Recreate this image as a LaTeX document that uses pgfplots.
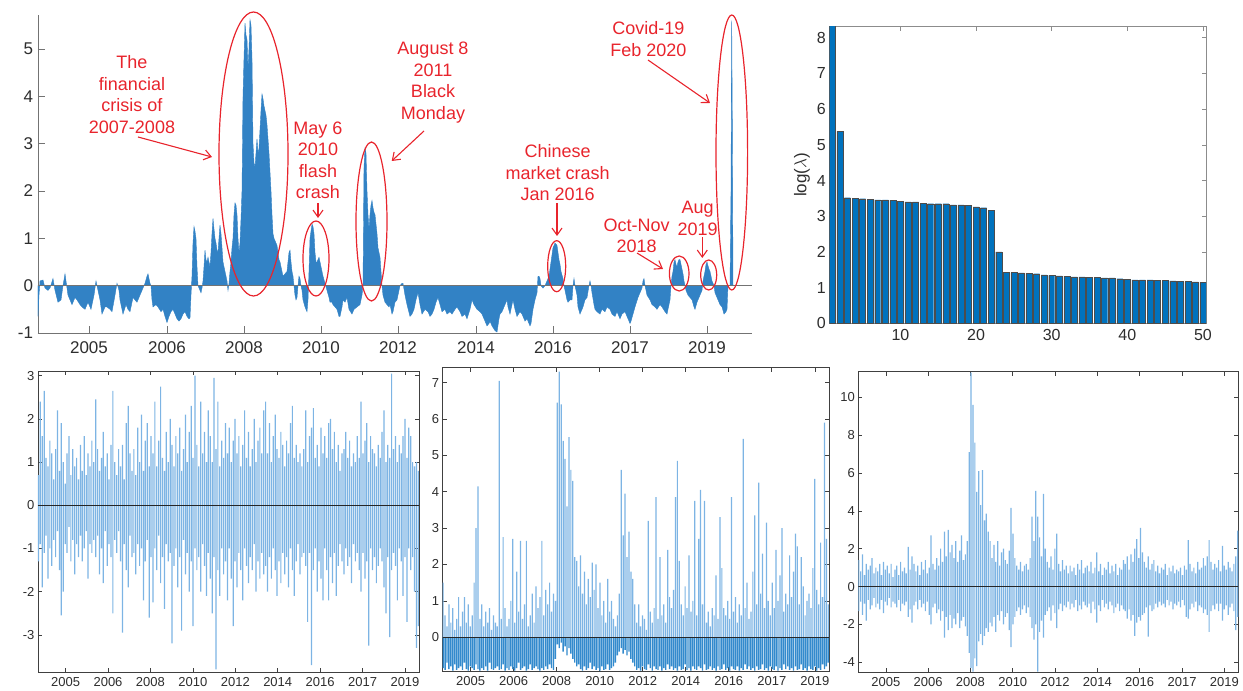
\documentclass[border=0pt]{standalone}
\usepackage{pgfplots}
\pgfplotsset{compat=1.18}
\usepackage{pgfplotstable}
\usepackage{fontspec}
\setmainfont{Liberation Sans}
\usetikzlibrary{arrows.meta}
\definecolor{areablue}{RGB}{50,130,197}
\definecolor{mblue}{RGB}{0,114,189}
\definecolor{spklight}{RGB}{125,180,228}
\definecolor{spkdark}{RGB}{50,138,205}
\definecolor{annored}{RGB}{232,36,44}
\definecolor{axgray}{RGB}{115,115,115}
\definecolor{lblgray}{RGB}{45,45,45}

% ---------- top-left: x in image pixels, y in data units ----------
\pgfplotstableread{
x y
38 -0.65
39 -0.2
40 0.1
43 0.12
45 -0.05
48 -0.1
50 -0.05
53 0.15
55 -0.1
58 -0.35
61 -0.3
63 0.0
65 0.25
67 -0.05
68 -0.2
72 -0.4
75 -0.25
77 -0.3
80 -0.4
82 -0.45
85 -0.5
88 -0.35
91 -0.5
94 -0.2
96 0.1
98 -0.1
100 -0.3
102 -0.6
105 -0.45
107 -0.45
110 -0.5
112 -0.55
115 -0.2
117 0.05
119 -0.1
120 -0.3
123 -0.6
126 -0.4
128 -0.5
130 -0.55
133 -0.25
135 -0.3
137 -0.35
140 -0.2
142 -0.1
145 0.05
147 0.2
148 0.25
150 0.05
151 0.0
152 -0.3
153 -0.45
156 -0.4
158 -0.45
161 -0.55
163 -0.5
165 -0.65
167 -0.78
169 -0.65
171 -0.55
173 -0.5
175 -0.6
177 -0.7
179 -0.75
181 -0.7
183 -0.6
185 -0.55
187 -0.65
189 -0.7
190 -0.68
191 -0.2
192 0.2
193 0.9
194 1.25
195 1.15
196 1.0
197 0.4
198 0.0
200 -0.1
201 -0.15
202 -0.05
203 0.1
204 0.4
205 0.75
206 0.55
207 0.5
208 0.6
209 0.5
210 0.4
211 0.7
212 1.1
213 1.42
214 1.2
215 1.0
216 0.9
217 0.75
218 0.7
219 1.0
220 1.28
221 1.1
222 0.8
223 0.5
225 0.3
227 0.1
228 -0.1
229 0.05
230 0.3
231 0.5
232 0.8
233 1.0
234 1.5
235 1.75
236 1.7
237 1.5
238 1.0
239 0.7
240 0.9
241 1.4
242 2.0
243 4.0
244 4.8
245 5.55
246 5.3
247 5.2
248 4.6
249 5.0
250 5.62
251 5.5
252 4.8
253 3.0
254 2.6
255 2.5
256 2.8
257 3.1
258 2.8
259 2.9
260 3.3
261 3.7
262 4.05
263 3.95
264 3.8
265 3.7
266 3.6
267 3.4
268 3.1
269 2.8
270 2.4
271 2.0
272 1.5
273 1.1
274 1.0
275 0.95
276 0.9
277 0.85
278 0.7
279 0.55
280 0.5
281 0.4
282 0.3
283 0.2
285 0.25
287 0.3
288 0.5
289 0.7
290 0.75
291 0.5
292 0.3
293 0.2
294 0.0
295 -0.2
296 -0.3
297 -0.25
298 0.0
299 0.2
300 0.15
301 0.0
302 -0.1
303 -0.3
305 -0.45
307 -0.55
308 -0.3
309 0.3
310 1.0
311 1.15
312 1.3
313 1.25
314 1.1
315 0.7
316 0.5
317 0.5
318 0.55
319 0.6
320 0.5
321 0.4
322 0.3
323 0.2
325 0.05
327 -0.1
329 -0.25
330 -0.35
332 -0.35
333 -0.4
335 -0.45
337 -0.5
339 -0.65
340 -0.65
342 -0.45
343 -0.3
345 -0.35
347 -0.25
349 -0.5
352 -0.6
354 -0.5
357 -0.45
360 -0.4
362 -0.2
363 0.0
364 2.5
365 2.9
366 2.8
367 2.0
368 1.5
369 1.2
370 1.5
371 1.7
372 1.8
373 1.65
374 1.55
375 1.5
376 1.3
377 1.1
378 0.8
379 0.7
380 0.6
381 0.3
382 0.0
383 -0.2
385 -0.35
387 -0.4
389 -0.45
390 -0.4
392 -0.6
393 -0.55
395 -0.35
397 -0.3
400 0.0
402 0.05
403 0.05
405 -0.2
407 -0.4
410 -0.65
412 -0.6
414 -0.5
416 -0.3
418 -0.15
420 -0.4
422 -0.6
425 -0.5
428 -0.55
430 -0.65
432 -0.6
434 -0.5
436 -0.35
438 -0.25
440 -0.4
442 -0.55
445 -0.5
447 -0.6
450 -0.55
452 -0.6
455 -0.5
457 -0.45
460 -0.55
462 -0.65
465 -0.6
467 -0.7
470 -0.5
472 -0.3
474 -0.4
477 -0.5
480 -0.55
482 -0.6
485 -0.75
487 -0.85
489 -0.8
490 -0.75
492 -0.85
495 -0.95
497 -0.98
499 -0.7
500 -0.6
502 -0.55
505 -0.4
507 -0.3
508 -0.45
510 -0.6
512 -0.4
513 -0.3
515 -0.5
517 -0.65
520 -0.55
522 -0.6
525 -0.75
527 -0.7
530 -0.85
531 -0.8
533 -0.5
535 -0.3
537 -0.15
538 0.2
539 0.2
540 0.15
541 0.0
543 -0.05
545 0.0
547 0.1
549 0.2
550 0.35
551 0.5
552 0.65
553 0.8
554 0.85
555 0.9
556 0.88
557 0.85
558 0.7
559 0.55
560 0.45
561 0.3
563 0.15
564 0.0
565 -0.1
567 -0.3
568 -0.35
570 -0.3
572 -0.3
573 0.0
574 0.15
575 0.0
577 -0.2
578 -0.45
580 -0.6
582 -0.5
583 -0.45
585 -0.3
587 -0.25
589 0.0
590 0.1
591 0.0
592 -0.15
594 -0.4
595 -0.5
597 -0.55
600 -0.6
602 -0.5
605 -0.55
607 -0.45
610 -0.5
612 -0.6
615 -0.65
617 -0.55
620 -0.7
622 -0.6
625 -0.55
627 -0.65
630 -0.8
631 -0.75
633 -0.6
635 -0.45
638 -0.25
640 -0.15
642 -0.05
643 0.1
644 0.15
645 0.0
647 -0.2
650 -0.3
652 -0.4
655 -0.45
657 -0.5
660 -0.4
662 -0.45
665 -0.55
667 -0.6
669 -0.4
670 -0.3
671 0.0
672 0.2
673 0.3
674 0.5
675 0.55
676 0.45
677 0.4
678 0.5
679 0.55
680 0.55
681 0.45
682 0.35
683 0.25
684 0.1
685 0.0
686 -0.1
688 -0.2
690 -0.25
692 -0.3
694 -0.45
695 -0.5
697 -0.35
698 -0.3
700 -0.2
702 -0.1
703 0.1
704 0.2
705 0.3
706 0.45
707 0.5
708 0.42
709 0.35
710 0.3
711 0.2
712 0.1
713 0.05
714 0.0
715 -0.15
717 -0.25
718 -0.3
720 -0.4
722 -0.45
724 -0.6
726 -0.55
727 -0.5
728 0.0
730 0.0
731 2.0
731.7 5.6
732.3 3.5
733 0.0
}\toptable

% ---------- eigenvalues ----------
\pgfplotstableread{
k v
1 9
2 5.38
3 3.52
4 3.51
5 3.49
6 3.48
7 3.46
8 3.46
9 3.45
10 3.41
11 3.40
12 3.40
13 3.37
14 3.35
15 3.35
16 3.35
17 3.32
18 3.32
19 3.30
20 3.26
21 3.24
22 3.16
23 2.00
24 1.42
25 1.42
26 1.41
27 1.40
28 1.39
29 1.36
30 1.34
31 1.33
32 1.32
33 1.30
34 1.30
35 1.29
36 1.28
37 1.27
38 1.27
39 1.25
40 1.24
41 1.22
42 1.22
43 1.22
44 1.20
45 1.20
46 1.19
47 1.18
48 1.17
49 1.16
50 1.15
}\bartable

% ---------- bottom panel 1 ----------
\pgfplotstableread[row sep=\\]{p n\\
0.7 -1.3\\ 2.4 -0.9\\ 1.6 -1.9\\ 2.65 -1.1\\ 1.1 -0.7\\ 0.9 -1.7\\ 1.5 -1.0\\ 1.2 -1.4\\ 0.6 -0.8\\ 1.3 -1.2\\
2.2 -0.6\\ 0.8 -1.5\\ 1.9 -2.55\\ 1.0 -2.0\\ 0.5 -0.9\\ 1.2 -1.1\\ 1.6 -0.5\\ 0.7 -1.3\\ 1.3 -0.8\\ 0.9 -1.6\\
1.1 -0.9\\ 0.6 -1.2\\ 1.4 -0.7\\ 0.8 -1.3\\ 1.6 -1.0\\ 0.7 -0.6\\ 1.2 -1.7\\ 0.9 -0.9\\ 1.5 -1.1\\ 1.0 -0.8\\
2.45 -1.2\\ 1.3 -0.7\\ 0.8 -1.6\\ 1.1 -1.0\\ 1.7 -1.8\\ 0.9 -0.6\\ 1.2 -1.4\\ 0.6 -0.9\\ 1.4 -1.2\\ 2.65 -2.5\\
1.0 -0.8\\ 0.7 -1.1\\ 1.3 -0.6\\ 0.9 -1.3\\ 1.4 -2.95\\ 0.6 -0.9\\ 1.9 -1.5\\ 2.3 -1.9\\ 1.2 -0.7\\ 0.8 -1.2\\
1.3 -1.1\\ 0.7 -1.6\\ 1.8 -0.9\\ 1.0 -1.4\\ 2.1 -1.0\\ 0.8 -2.2\\ 1.5 -1.3\\ 1.9 -0.8\\ 0.9 -2.6\\ 1.6 -1.2\\
1.2 -2.25\\ 2.4 -1.0\\ 0.9 -1.5\\ 1.5 -0.7\\ 2.75 -1.8\\ 1.1 -1.2\\ 0.8 -2.4\\ 1.7 -0.9\\ 1.0 -1.3\\ 2.0 -1.1\\
1.4 -3.2\\ 0.9 -1.4\\ 1.6 -1.0\\ 1.2 -1.9\\ 1.8 -1.2\\ 0.8 -2.9\\ 1.3 -0.8\\ 2.1 -1.6\\ 1.0 -1.1\\ 1.7 -2.0\\
2.3 -1.3\\ 1.1 -2.8\\ 3.0 -1.0\\ 1.4 -1.5\\ 0.9 -1.2\\ 2.4 -2.0\\ 1.2 -0.9\\ 1.7 -1.4\\ 1.0 -2.1\\ 2.2 -1.1\\
1.6 -1.7\\ 1.0 -2.5\\ 2.95 -1.2\\ 1.3 -3.8\\ 2.4 -1.5\\ 0.9 -2.1\\ 1.5 -1.0\\ 1.1 -1.6\\ 1.9 -1.3\\ 1.2 -2.2\\
1.8 -1.0\\ 1.0 -1.7\\ 1.5 -2.8\\ 2.0 -1.3\\ 1.2 -1.9\\ 1.6 -1.1\\ 0.9 -1.5\\ 1.4 -2.2\\ 2.2 -1.0\\ 1.1 -1.4\\
1.7 -1.8\\ 0.9 -1.2\\ 1.3 -1.5\\ 2.0 -0.9\\ 1.0 -2.0\\ 1.5 -1.3\\ 1.8 -1.7\\ 1.2 -1.1\\ 2.2 -1.6\\ 2.4 -1.4\\
1.2 -2.0\\ 1.9 -1.2\\ 1.0 -1.7\\ 1.6 -1.0\\ 2.1 -1.5\\ 1.3 -2.1\\ 1.1 -1.3\\ 1.7 -1.8\\ 1.4 -1.1\\ 0.9 -1.6\\
1.5 -1.2\\ 1.2 -1.9\\ 1.9 -1.0\\ 2.3 -1.5\\ 1.1 -2.1\\ 1.4 -1.3\\ 1.0 -0.9\\ 1.2 -1.6\\ 0.9 -1.2\\ 1.3 -1.1\\
2.2 -1.4\\ 1.0 -2.7\\ 1.6 -1.1\\ 1.8 -3.7\\ 2.25 -1.5\\ 1.1 -1.0\\ 1.4 -2.0\\ 0.9 -1.3\\ 1.8 -1.7\\ 1.2 -2.2\\
1.6 -1.0\\ 1.1 -1.5\\ 1.9 -2.2\\ 2.0 -1.2\\ 1.3 -1.8\\ 1.7 -1.1\\ 1.0 -2.1\\ 1.4 -1.4\\ 0.8 -0.9\\ 1.2 -1.3\\
1.3 -1.6\\ 1.7 -1.0\\ 1.1 -1.4\\ 1.5 -1.2\\ 0.9 -1.8\\ 1.2 -0.9\\ 1.0 -1.3\\ 1.6 -1.1\\ 1.1 -1.5\\ 2.4 -2.0\\
1.2 -1.1\\ 1.5 -1.7\\ 1.9 -1.3\\ 1.0 -3.25\\ 1.6 -1.0\\ 1.3 -1.5\\ 1.2 -1.2\\ 0.9 -1.8\\ 1.4 -1.4\\ 1.1 -1.0\\
1.7 -1.3\\ 2.2 -1.9\\ 1.0 -2.5\\ 1.4 -1.2\\ 1.1 -3.05\\ 3.05 -1.5\\ 1.3 -1.1\\ 1.6 -1.4\\ 1.0 -2.2\\ 1.4 -1.0\\
1.2 -1.3\\ 1.6 -2.1\\ 2.0 -1.2\\ 1.1 -2.7\\ 1.8 -1.0\\ 1.6 -1.5\\ 1.0 -1.2\\ 0.9 -2.0\\ 1.0 -3.3\\ 0.8 -2.8\\
}\tabA

% ---------- bottom panel 2 ----------
\pgfplotstableread[row sep=\\]{p n\\
1.5 -0.85\\ 0.6 -0.9\\ 0.3 -0.7\\ 0.9 -0.88\\ 0.4 -0.8\\ 0.8 -0.92\\ 0.2 -0.75\\ 0.5 -0.9\\ 1.1 -0.85\\ 0.3 -0.8\\
0.7 -0.9\\ 1.1 -0.7\\ 0.4 -0.88\\ 0.9 -0.92\\ 0.3 -0.8\\ 0.6 -0.85\\ 1.5 -0.9\\ 3.0 -0.75\\ 4.15 -0.88\\ 0.5 -0.92\\
0.9 -0.85\\ 0.3 -0.9\\ 0.7 -0.8\\ 0.4 -0.92\\ 0.8 -0.7\\ 0.2 -0.88\\ 0.6 -0.9\\ 0.4 -0.85\\ 0.3 -0.8\\ 7.05 -0.9\\
0.5 -0.88\\ 2.75 -0.75\\ 0.8 -0.92\\ 0.3 -0.85\\ 0.5 -0.9\\ 1.0 -0.8\\ 2.7 -0.88\\ 0.4 -0.92\\ 1.8 -0.85\\ 0.7 -0.7\\
2.65 -0.9\\ 0.5 -0.85\\ 0.9 -0.8\\ 2.65 -0.92\\ 0.3 -0.88\\ 0.6 -0.75\\ 1.2 -0.9\\ 0.4 -0.85\\ 1.4 -0.8\\ 0.8 -0.88\\
1.1 -0.92\\ 2.65 -0.85\\ 0.6 -0.9\\ 1.3 -0.8\\ 0.9 -0.88\\ 1.5 -0.75\\ 0.7 -0.85\\ 1.2 -0.9\\ 1.0 -0.6\\ 6.45 -0.2\\
7.3 -0.3\\ 6.4 -0.15\\ 5.4 -0.4\\ 4.9 -0.25\\ 3.6 -0.5\\ 5.5 -0.3\\ 4.6 -0.45\\ 4.3 -0.6\\ 2.2 -0.7\\ 2.1 -0.8\\
1.4 -0.75\\ 2.25 -0.88\\ 1.2 -0.92\\ 1.8 -0.8\\ 0.9 -0.9\\ 1.6 -0.85\\ 1.1 -0.7\\ 2.05 -0.88\\ 1.3 -0.8\\ 2.0 -0.9\\
0.8 -0.85\\ 1.5 -0.92\\ 0.6 -0.8\\ 1.0 -0.9\\ 0.4 -0.88\\ 1.6 -0.75\\ 0.7 -0.9\\ 1.0 -0.85\\ 0.5 -0.8\\ 0.3 -0.7\\
0.6 -0.5\\ 1.2 -0.4\\ 4.6 -0.3\\ 2.8 -0.45\\ 3.95 -0.35\\ 2.2 -0.5\\ 2.9 -0.4\\ 1.8 -0.6\\ 1.6 -0.7\\ 0.9 -0.8\\
0.4 -0.9\\ 0.9 -0.85\\ 0.3 -0.92\\ 0.6 -0.8\\ 0.5 -0.88\\ 0.2 -0.9\\ 3.2 -0.75\\ 0.7 -0.85\\ 0.4 -0.92\\ 0.8 -0.8\\
3.85 -0.88\\ 0.5 -0.9\\ 2.2 -0.8\\ 0.6 -0.92\\ 0.9 -0.85\\ 0.4 -0.9\\ 2.4 -0.75\\ 1.1 -0.88\\ 0.8 -0.8\\ 1.3 -0.9\\
3.85 -0.85\\ 4.85 -0.92\\ 2.1 -0.8\\ 0.9 -0.9\\ 0.6 -0.88\\ 1.4 -0.75\\ 0.8 -0.9\\ 2.25 -0.85\\ 0.7 -0.92\\ 1.0 -0.8\\
3.75 -0.88\\ 0.6 -0.9\\ 2.7 -0.8\\ 4.05 -0.85\\ 0.9 -0.92\\ 3.75 -0.75\\ 0.4 -0.9\\ 0.7 -0.88\\ 0.3 -0.8\\ 0.8 -0.9\\
0.6 -0.85\\ 1.7 -0.92\\ 0.5 -0.8\\ 3.3 -0.9\\ 1.9 -0.88\\ 0.8 -0.75\\ 0.6 -0.9\\ 1.0 -0.85\\ 0.5 -0.92\\ 3.85 -0.8\\
0.7 -0.88\\ 1.1 -0.9\\ 0.4 -0.8\\ 0.9 -0.92\\ 0.6 -0.85\\ 5.45 -0.9\\ 0.8 -0.75\\ 1.5 -0.88\\ 0.5 -0.8\\ 0.7 -0.9\\
1.8 -0.85\\ 3.35 -0.92\\ 0.9 -0.8\\ 4.25 -0.9\\ 1.2 -0.88\\ 2.3 -0.75\\ 0.8 -0.9\\ 3.15 -0.85\\ 1.0 -0.92\\ 0.6 -0.8\\
1.5 -0.88\\ 0.8 -0.9\\ 2.4 -0.8\\ 1.0 -0.92\\ 1.7 -0.85\\ 3.0 -0.9\\ 0.7 -0.75\\ 1.2 -0.88\\ 0.9 -0.8\\ 2.25 -0.9\\
1.1 -0.85\\ 1.8 -0.92\\ 2.85 -0.8\\ 2.5 -0.9\\ 0.9 -0.88\\ 2.2 -0.75\\ 1.4 -0.9\\ 0.6 -0.85\\ 1.0 -0.92\\ 1.2 -0.8\\
0.8 -0.88\\ 1.9 -0.9\\ 4.35 -0.8\\ 1.3 -0.92\\ 0.9 -0.85\\ 2.6 -0.9\\ 1.1 -0.75\\ 5.9 -0.88\\ 2.7 -0.8\\ 0.9 -0.7\\
}\tabB

% ---------- bottom panel 3 ----------
\pgfplotstableread[row sep=\\]{p n\\
1.4 -1.3\\ 0.8 -0.8\\ 1.7 -1.5\\ 0.6 -0.9\\ 1.2 -1.8\\ 0.9 -0.7\\ 1.1 -1.2\\ 1.5 -1.0\\ 0.7 -0.6\\ 1.0 -1.1\\
0.8 -0.9\\ 1.2 -1.2\\ 0.6 -0.7\\ 1.3 -1.4\\ 0.9 -0.8\\ 1.1 -1.0\\ 0.7 -0.6\\ 1.2 -1.1\\ 0.5 -0.8\\ 0.9 -0.9\\
1.1 -1.1\\ 0.6 -0.7\\ 1.3 -1.3\\ 0.8 -0.9\\ 1.0 -1.0\\ 0.7 -0.8\\ 2.1 -1.6\\ 0.9 -1.2\\ 1.6 -1.9\\ 1.2 -1.0\\
0.8 -0.8\\ 1.1 -1.2\\ 0.6 -0.7\\ 1.3 -1.1\\ 0.9 -0.9\\ 1.4 -1.3\\ 0.7 -0.8\\ 1.0 -1.5\\ 2.7 -2.0\\ 1.2 -1.1\\
0.9 -0.9\\ 1.5 -1.4\\ 1.1 -1.2\\ 2.0 -1.8\\ 1.3 -1.3\\ 2.9 -2.7\\ 1.6 -1.6\\ 3.0 -2.3\\ 1.8 -1.5\\ 2.2 -2.2\\
1.5 -1.7\\ 2.4 -2.0\\ 1.3 -1.4\\ 1.9 -2.2\\ 2.7 -1.8\\ 1.4 -1.6\\ 1.7 -2.1\\ 2.4 -2.6\\ 7.1 -3.5\\ 11.3 -4.3\\
9.6 -4.5\\ 7.6 -3.8\\ 5.0 -4.2\\ 6.1 -2.9\\ 4.3 -2.5\\ 6.15 -3.1\\ 3.5 -2.6\\ 3.85 -2.2\\ 2.9 -2.4\\ 2.4 -1.9\\
1.5 -2.1\\ 2.2 -1.6\\ 1.3 -2.4\\ 2.4 -1.5\\ 1.1 -1.8\\ 1.8 -1.3\\ 2.0 -2.0\\ 1.4 -1.6\\ 1.2 -1.4\\ 1.9 -2.3\\
4.15 -3.2\\ 2.8 -2.0\\ 1.5 -1.6\\ 1.1 -1.3\\ 0.9 -1.1\\ 1.3 -1.5\\ 0.8 -1.2\\ 1.1 -1.0\\ 1.2 -1.4\\ 0.9 -1.1\\
1.5 -1.6\\ 3.7 -2.2\\ 2.4 -2.8\\ 5.05 -2.0\\ 3.7 -4.5\\ 2.6 -2.4\\ 1.6 -1.8\\ 4.9 -2.7\\ 2.0 -1.5\\ 1.3 -1.3\\
1.0 -1.1\\ 1.6 -1.8\\ 0.9 -1.0\\ 2.0 -1.4\\ 2.8 -2.2\\ 1.2 -1.2\\ 0.8 -0.9\\ 1.4 -1.3\\ 0.9 -1.0\\ 1.1 -1.1\\
0.7 -0.8\\ 1.1 -1.2\\ 0.8 -0.9\\ 1.0 -1.1\\ 0.6 -0.7\\ 1.2 -1.3\\ 0.9 -1.0\\ 1.4 -1.2\\ 0.7 -0.8\\ 1.0 -1.0\\
1.1 -1.1\\ 0.8 -0.9\\ 1.3 -1.4\\ 0.7 -0.8\\ 1.0 -1.2\\ 1.8 -1.9\\ 0.8 -1.0\\ 1.2 -1.3\\ 0.6 -0.7\\ 1.0 -1.1\\
0.9 -0.9\\ 1.3 -1.2\\ 0.7 -0.8\\ 1.1 -1.0\\ 0.8 -1.4\\ 1.2 -1.1\\ 0.6 -0.9\\ 1.0 -1.3\\ 0.9 -1.0\\ 1.4 -1.2\\
1.2 -1.3\\ 1.6 -1.7\\ 0.9 -1.2\\ 1.7 -1.8\\ 1.3 -1.5\\ 2.0 -2.6\\ 2.5 -1.9\\ 1.5 -1.6\\ 3.1 -1.8\\ 1.8 -1.5\\
1.3 -1.4\\ 1.0 -1.1\\ 1.6 -2.65\\ 0.9 -1.0\\ 1.2 -1.3\\ 1.4 -1.2\\ 0.8 -0.9\\ 1.1 -1.1\\ 0.7 -0.8\\ 1.0 -1.0\\
0.9 -0.9\\ 1.2 -1.1\\ 0.6 -0.7\\ 1.0 -1.0\\ 0.8 -0.8\\ 1.1 -1.2\\ 0.7 -0.9\\ 0.9 -1.0\\ 0.8 -0.8\\ 1.0 -1.1\\
0.6 -0.7\\ 1.1 -1.0\\ 0.9 -1.6\\ 2.45 -1.7\\ 1.2 -1.2\\ 0.8 -0.9\\ 1.0 -1.1\\ 0.7 -0.8\\ 1.3 -1.3\\ 0.9 -1.0\\
1.0 -1.1\\ 1.5 -1.4\\ 1.1 -1.2\\ 1.6 -1.5\\ 2.45 -2.4\\ 1.3 -1.3\\ 0.9 -1.0\\ 1.2 -1.2\\ 1.0 -0.9\\ 1.4 -1.3\\
0.8 -0.9\\ 2.15 -1.8\\ 1.1 -1.2\\ 0.9 -1.0\\ 1.3 -1.5\\ 1.0 -1.1\\ 0.8 -0.9\\ 1.2 -1.3\\ 1.6 -2.3\\ 2.95 -1.6\\
}\tabC

\pgfplotsset{
  spkbar/.style={ybar, bar width=1.2pt, bar shift=0pt, fill=spklight, draw=none, mark=none},
  bottompanel/.style={
    scale only axis, anchor=south west,
    xmin=0.35, xmax=9.33,
    xtick={1,2,3,4,5,6,7,8,9},
    xticklabels={2005,2006,2008,2010,2012,2014,2016,2017,2019},
    tick align=inside, major tick length=4pt,
    axis line style={black!75, line width=0.6pt},
    tick style={black!75, line width=0.6pt},
    ticklabel style={font=\fontsize{13}{15}\selectfont, text=lblgray},
    xticklabel style={yshift=-1.5pt},
    /pgf/number format/assume math mode=true,
  },
}

\begin{document}
\begin{tikzpicture}
\useasboundingbox (0,0) rectangle (1243pt,691pt);

% ================= top-left =================
\begin{axis}[
  at={(38pt,358pt)}, anchor=south west,
  scale only axis, width=714pt, height=318pt,
  xmin=38, xmax=752, ymin=-1, ymax=5.72,
  axis x line*=bottom, axis y line*=left,
  axis line style={axgray, line width=0.8pt},
  tick align=inside, major tick length=7pt,
  tick style={axgray, line width=0.8pt},
  xtick={89,167,244,321,398,476,553,630,707},
  xticklabels={2005,2006,2008,2010,2012,2014,2016,2017,2019},
  ytick={-1,0,1,2,3,4,5},
  ticklabel style={font=\fontsize{17}{20}\selectfont, text=lblgray},
  xticklabel style={yshift=-5pt},
  yticklabel style={xshift=-1.5pt},
  /pgf/number format/assume math mode=true,
  clip=false,
]
\addplot[fill=areablue, draw=areablue, line width=0.4pt] table[x=x,y=y] {\toptable} \closedcycle;
\addplot[axgray, line width=0.8pt] coordinates {(38,0) (752,0)};
\end{axis}

% ================= top-right bars =================
\begin{axis}[
  at={(829.3pt,367.7pt)}, anchor=south west,
  scale only axis, width=376.7pt, height=296.6pt,
  xmin=0.6, xmax=50.4, ymin=0, ymax=8.31,
  ybar, bar width=0.8, bar shift=0pt,
  axis line style={black!45, line width=0.6pt},
  tick align=inside, major tick length=4pt,
  tick style={black!45, line width=0.6pt},
  xtick={10,20,30,40,50}, ytick={0,1,2,3,4,5,6,7,8},
  ticklabel style={font=\fontsize{16}{19}\selectfont, text=lblgray},
  xticklabel style={yshift=-2pt},
  /pgf/number format/assume math mode=true,
  ylabel={log($\lambda$)},
  ylabel style={font=\fontsize{17}{20}\selectfont, text=lblgray},
]
\addplot[fill=mblue, draw=black!70, line width=0.3pt] table[x=k,y=v] {\bartable};
\end{axis}

% ================= bottom 1 =================
\begin{axis}[bottompanel,
  at={(38pt,19pt)}, width=381pt, height=301pt,
  ymin=-3.86, ymax=3.11, ytick={-3,-2,-1,0,1,2,3},
]
\addplot[spkbar] table[x expr=0.36+0.045*\coordindex, y=n] {\tabA};
\addplot[spkbar] table[x expr=0.36+0.045*\coordindex, y=p] {\tabA};
\addplot[black!85, line width=0.8pt] coordinates {(0.35,0) (9.33,0)};
\end{axis}

% ================= bottom 2 =================
\begin{axis}[bottompanel,
  at={(442.7pt,20pt)}, width=386.3pt, height=303.3pt,
  ymin=-0.93, ymax=7.41, ytick={0,1,2,3,4,5,6,7},
]
\addplot[spkbar, fill=spkdark, bar width=1.4pt] table[x expr=0.36+0.045*\coordindex, y=n] {\tabB};
\addplot[spkbar] table[x expr=0.36+0.045*\coordindex, y=p] {\tabB};
\addplot[black!85, line width=0.8pt] coordinates {(0.35,0) (9.33,0)};
\end{axis}

% ================= bottom 3 =================
\begin{axis}[bottompanel,
  at={(858.3pt,18.7pt)}, width=380pt, height=300.6pt,
  ymin=-4.53, ymax=11.35, ytick={-4,-2,0,2,4,6,8,10},
]
\addplot[spkbar] table[x expr=0.36+0.045*\coordindex, y=n] {\tabC};
\addplot[spkbar] table[x expr=0.36+0.045*\coordindex, y=p] {\tabC};
\addplot[black!85, line width=0.8pt] coordinates {(0.35,0) (9.33,0)};
\end{axis}

% ================= annotations (image pixel positions) =================
\begin{scope}[annored, line width=1.2pt]
\tikzset{lab/.style={align=center, text=annored, font=\fontsize{18}{21.5}\selectfont, inner sep=0pt},
         arr/.style={-{Straight Barb[length=7pt,width=10pt]}, line width=1.1pt}}
\draw (253.5pt,537pt) ellipse [x radius=34.5pt, y radius=142pt];
\draw (316pt,432.5pt) ellipse [x radius=13pt, y radius=37.5pt];
\draw (371.5pt,469.5pt) ellipse [x radius=15.5pt, y radius=79.5pt];
\draw (556.7pt,424.8pt) ellipse [x radius=9pt, y radius=25.5pt];
\draw (679.2pt,417.5pt) ellipse [x radius=9.8pt, y radius=17.5pt];
\draw (708.7pt,416pt) ellipse [x radius=8pt, y radius=15pt];
\draw (731.8pt,538.5pt) ellipse [x radius=15.8pt, y radius=137.5pt];

\node[lab] at (132pt,596.5pt) {The\\financial\\crisis of\\2007-2008};
\draw[arr] (138pt,554pt) -- (212pt,534pt);
\node[lab] at (318pt,530.5pt) {May 6\\2010\\flash\\crash};
\draw[arr] (318pt,488pt) -- (318pt,473pt);
\node[lab] at (433pt,608.5pt) {August 8\\2011\\Black\\Monday};
\draw[arr] (424pt,560pt) -- (391.7pt,530pt);
\node[lab] at (557.7pt,518pt) {Chinese\\market crash\\Jan 2016};
\draw[arr] (557pt,488pt) -- (557pt,455pt);
\node[lab] at (636.7pt,455pt) {Oct-Nov\\2018};
\draw[arr] (637pt,438pt) -- (663pt,422pt);
\node[lab] at (697.7pt,472.5pt) {Aug\\2019};
\draw[arr] (702.3pt,454pt) -- (702.3pt,433pt);
\node[lab] at (648.3pt,652pt) {Covid-19\\Feb 2020};
\draw[arr] (648pt,631pt) -- (710pt,588pt);
\end{scope}
\end{tikzpicture}
\end{document}
